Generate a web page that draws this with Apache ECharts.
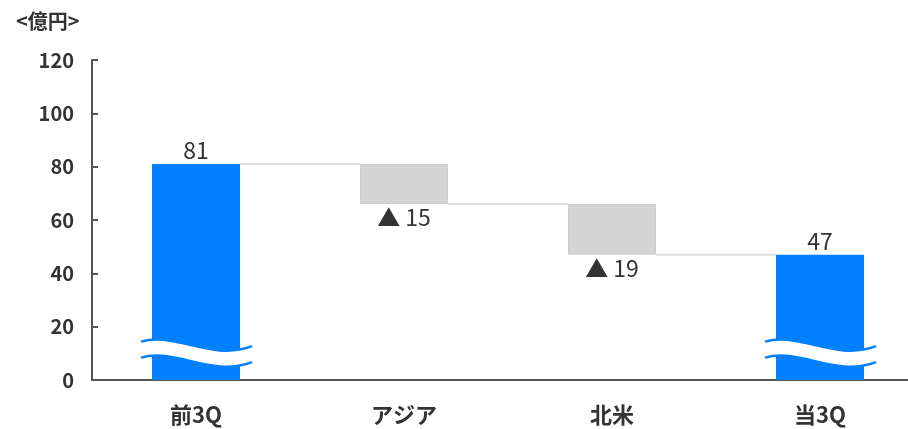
<!DOCTYPE html>
<html>
<head>
<meta charset="utf-8">
<script src="https://cdn.jsdelivr.net/npm/echarts@6/dist/echarts.min.js"></script>
<style>html,body{margin:0;padding:0;background:#fff;}#c{width:908px;height:429px;}</style>
</head>
<body>
<div id="c"></div>
<script>
var categories = ['前3Q', 'アジア', '北米', '当3Q'];
var startValue = 81;
var changes = [-15, -19];
var endValue = 47;
var yTicks = [0, 20, 40, 60, 80, 100, 120];
var breakAt = 14.4;

// derived waterfall arrays
var baseData = [0];
var totalData = [startValue];
var deltaData = ['-'];
var running = startValue;
changes.forEach(function (d) {
  running += d;
  baseData.push(running);
  totalData.push('-');
  deltaData.push(-d);
});
baseData.push(0);
totalData.push(endValue);
deltaData.push('-');

// connectors: [fromIndex, value]
var levels = [startValue];
var r = startValue;
changes.forEach(function (d) { r += d; levels.push(r); });
var connectors = levels.map(function (v, i) { return [i, v]; });

var FONT = '"Noto Sans CJK JP", "Noto Sans", sans-serif';
var chart = echarts.init(document.getElementById('c'));
var BAR_W = 88;

chart.setOption({
  animation: false,
  textStyle: { fontFamily: FONT },
  title: {
    text: '<億円>', left: 11, top: 6,
    textStyle: { fontSize: 20, fontWeight: 'bold', color: '#333', fontFamily: FONT }
  },
  grid: { left: 92, width: 832, top: 60, height: 320, outerBoundsMode: 'none', containLabel: false },
  xAxis: {
    type: 'category', data: categories,
    axisLine: { lineStyle: { color: '#555', width: 2 } },
    axisTick: { show: false },
    axisLabel: { color: '#333', fontSize: 22, fontWeight: 'bold', margin: 24, fontFamily: FONT }
  },
  yAxis: {
    type: 'value', min: yTicks[0], max: yTicks[yTicks.length - 1], interval: 20,
    axisLine: { show: true, lineStyle: { color: '#555', width: 2 } },
    axisTick: { show: true, inside: true, length: 6, lineStyle: { color: '#555', width: 2 } },
    splitLine: { show: false },
    axisLabel: { color: '#333', fontSize: 20, fontWeight: 'bold', margin: 18, fontFamily: FONT }
  },
  series: [
    {
      type: 'custom', z: 1,
      data: connectors,
      renderItem: function (params, api) {
        var i = api.value(0);
        var v = api.value(1);
        var p1 = api.coord([i, v]);
        var p2 = api.coord([i + 1, v]);
        return {
          type: 'line',
          shape: { x1: p1[0] + BAR_W / 2, y1: p1[1], x2: p2[0] - BAR_W / 2, y2: p2[1] },
          style: { stroke: '#dddddd', lineWidth: 2 }
        };
      },
      silent: true
    },
    {
      type: 'bar', stack: 'w', barWidth: BAR_W, data: baseData,
      itemStyle: { color: 'transparent' }, silent: true
    },
    {
      type: 'bar', stack: 'w', barWidth: BAR_W, data: totalData,
      itemStyle: { color: '#0080FF' },
      label: { show: true, position: 'top', distance: 2, color: '#333', fontSize: 23, fontFamily: FONT }
    },
    {
      type: 'bar', stack: 'w', barWidth: BAR_W, data: deltaData,
      itemStyle: { color: '#d3d3d3', borderColor: '#cccccc', borderWidth: 1 },
      label: {
        show: true, position: 'bottom', distance: 2, color: '#333', fontSize: 23, fontFamily: FONT,
        formatter: function (p) { return '▲ ' + p.value; }
      }
    },
    {
      type: 'custom', z: 10,
      data: [[0, breakAt], [categories.length - 1, breakAt]],
      renderItem: function (params, api) {
        var c = api.coord([api.value(0), api.value(1)]);
        var x = c[0], y = c[1];
        function curve(dy) {
          return 'M' + (x - 55) + ',' + (y + dy) +
            ' C' + (x - 20) + ',' + (y - 10 + dy) + ' ' + (x + 15) + ',' + (y + 20 + dy) + ' ' + (x + 56) + ',' + (y + 4.5 + dy);
        }
        var gap = 16;
        var band = curve(0) +
          ' L' + (x + 56) + ',' + (y + 4.5 + gap) +
          ' C' + (x + 15) + ',' + (y + 20 + gap) + ' ' + (x - 20) + ',' + (y - 10 + gap) + ' ' + (x - 55) + ',' + (y + gap) + ' Z';
        return {
          type: 'group',
          children: [
            { type: 'path', shape: { pathData: band }, style: { fill: '#ffffff', stroke: null } },
            { type: 'path', shape: { pathData: curve(0) }, style: { fill: null, stroke: '#0080FF', lineWidth: 2.5 } },
            { type: 'path', shape: { pathData: curve(gap) }, style: { fill: null, stroke: '#0080FF', lineWidth: 2.5 } }
          ]
        };
      },
      silent: true
    }
  ]
});
</script>
</body>
</html>
